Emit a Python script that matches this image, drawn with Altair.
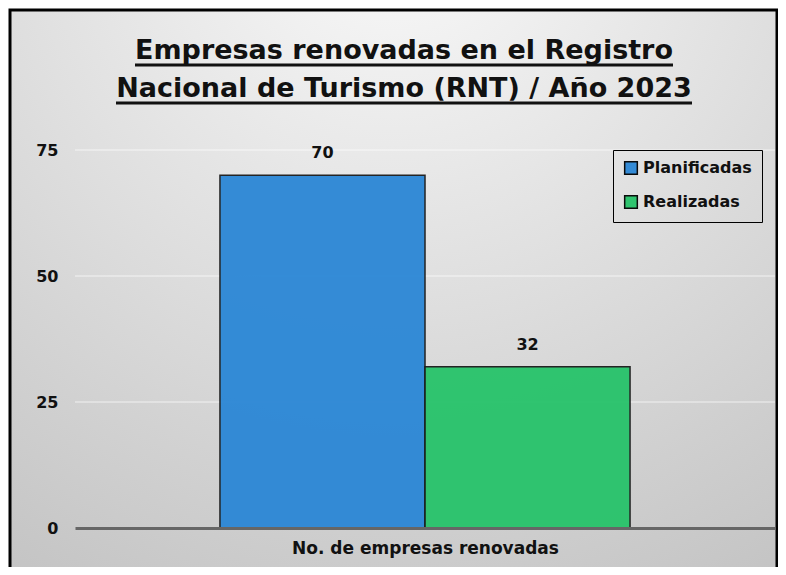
import altair as alt
import pandas as pd

series = ["Planificadas", "Realizadas"]
values = [70, 32]
colors = ["#2b87d6", "#27c36a"]
category = "No. de empresas renovadas"
title_lines = ["Empresas renovadas en el Registro", "Nacional de Turismo (RNT) / Año 2023"]
y_ticks = [0, 25, 50, 75]

W, H = 700, 378
FONT = "DejaVu Sans"

df = pd.DataFrame({"Serie": series, "Valor": values})
grid_df = pd.DataFrame({"v": y_ticks[1:]})
one = pd.DataFrame({"k": [0]})

bg = alt.Chart(one).mark_rect(
    clip=False,
    color=alt.RadialGradient(
        gradient="radial", x1=0.5, y1=0.0, r1=0.0, x2=0.5, y2=0.0, r2=1.0,
        stops=[alt.GradientStop(offset=0, color="#fbfbfb"),
               alt.GradientStop(offset=1, color="#c4c4c4")],
    ),
).encode(x=alt.value(-65), x2=alt.value(702), y=alt.value(-140), y2=alt.value(420))

xscale = alt.Scale(domain=series, paddingInner=0, paddingOuter=0.707)
yscale = alt.Scale(domain=[0, 75])

grid = alt.Chart(grid_df).mark_rule(color="#ffffff", opacity=0.7, strokeWidth=1).encode(
    y=alt.Y("v:Q", scale=yscale))

bars = alt.Chart(df).mark_bar(stroke="#1a1a1a", strokeWidth=1.5, opacity=0.95).encode(
    x=alt.X("Serie:N", scale=xscale,
            axis=alt.Axis(title=category, labels=False, ticks=False, domain=True,
                          domainColor="#666666", domainWidth=3, zindex=2,
                          titleFont=FONT, titleFontSize=17, titleFontWeight="bold",
                          titleColor="#111111", titlePadding=12)),
    y=alt.Y("Valor:Q", scale=yscale,
            axis=alt.Axis(title=None, values=y_ticks, ticks=False, domain=False, zindex=2,
                          labelFont=FONT, labelFontSize=16, labelFontWeight="bold",
                          labelColor="#111111", labelPadding=17, grid=False)),
    color=alt.Color("Serie:N", scale=alt.Scale(domain=series, range=colors),
                    legend=alt.Legend(title=None, orient="none", legendX=538, legendY=0,
                                      strokeColor="#000000", padding=10,
                                      symbolType="square", symbolSize=160,
                                      symbolStrokeColor="#000000", symbolStrokeWidth=1.5,
                                      labelFont=FONT, labelFontSize=16, labelFontWeight="bold",
                                      labelColor="#111111", rowPadding=14,
                                      fillColor="transparent")),
)

labels = alt.Chart(df).mark_text(
    dy=-22, font=FONT, fontSize=16, fontWeight="bold", color="#111111"
).encode(
    x=alt.X("Serie:N", scale=xscale),
    y=alt.Y("Valor:Q", scale=yscale),
    text=alt.Text("Valor:Q"),
)

t1 = alt.Chart(one).mark_text(clip=False, font=FONT, fontSize=27, fontWeight="bold",
                              color="#111111", align="center", baseline="alphabetic").encode(
    x=alt.value(329), y=alt.value(-91), text=alt.value(title_lines[0]))
t2 = alt.Chart(one).mark_text(clip=False, font=FONT, fontSize=27, fontWeight="bold",
                              color="#111111", align="center", baseline="alphabetic").encode(
    x=alt.value(329), y=alt.value(-53), text=alt.value(title_lines[1]))

ul1 = alt.Chart(one).mark_rule(clip=False, color="#111111", strokeWidth=3).encode(
    x=alt.value(60), x2=alt.value(598), y=alt.value(-85))
ul2 = alt.Chart(one).mark_rule(clip=False, color="#111111", strokeWidth=3).encode(
    x=alt.value(41), x2=alt.value(617), y=alt.value(-47))

border = alt.Chart(one).mark_rect(clip=False, fill="transparent", stroke="#000000", strokeWidth=3).encode(
    x=alt.value(-65), x2=alt.value(702), y=alt.value(-140), y2=alt.value(440))

chart = alt.layer(bg, grid, bars, labels, t1, t2, ul1, ul2, border).properties(
    width=W, height=H,
    autosize=alt.AutoSizeParams(type="none"),
    padding={"left": 67, "top": 142, "right": 3, "bottom": 39},
).configure_view(stroke=None).configure(background="#ffffff")

chart.save("out.html", embed_options={"renderer": "svg", "actions": False})
